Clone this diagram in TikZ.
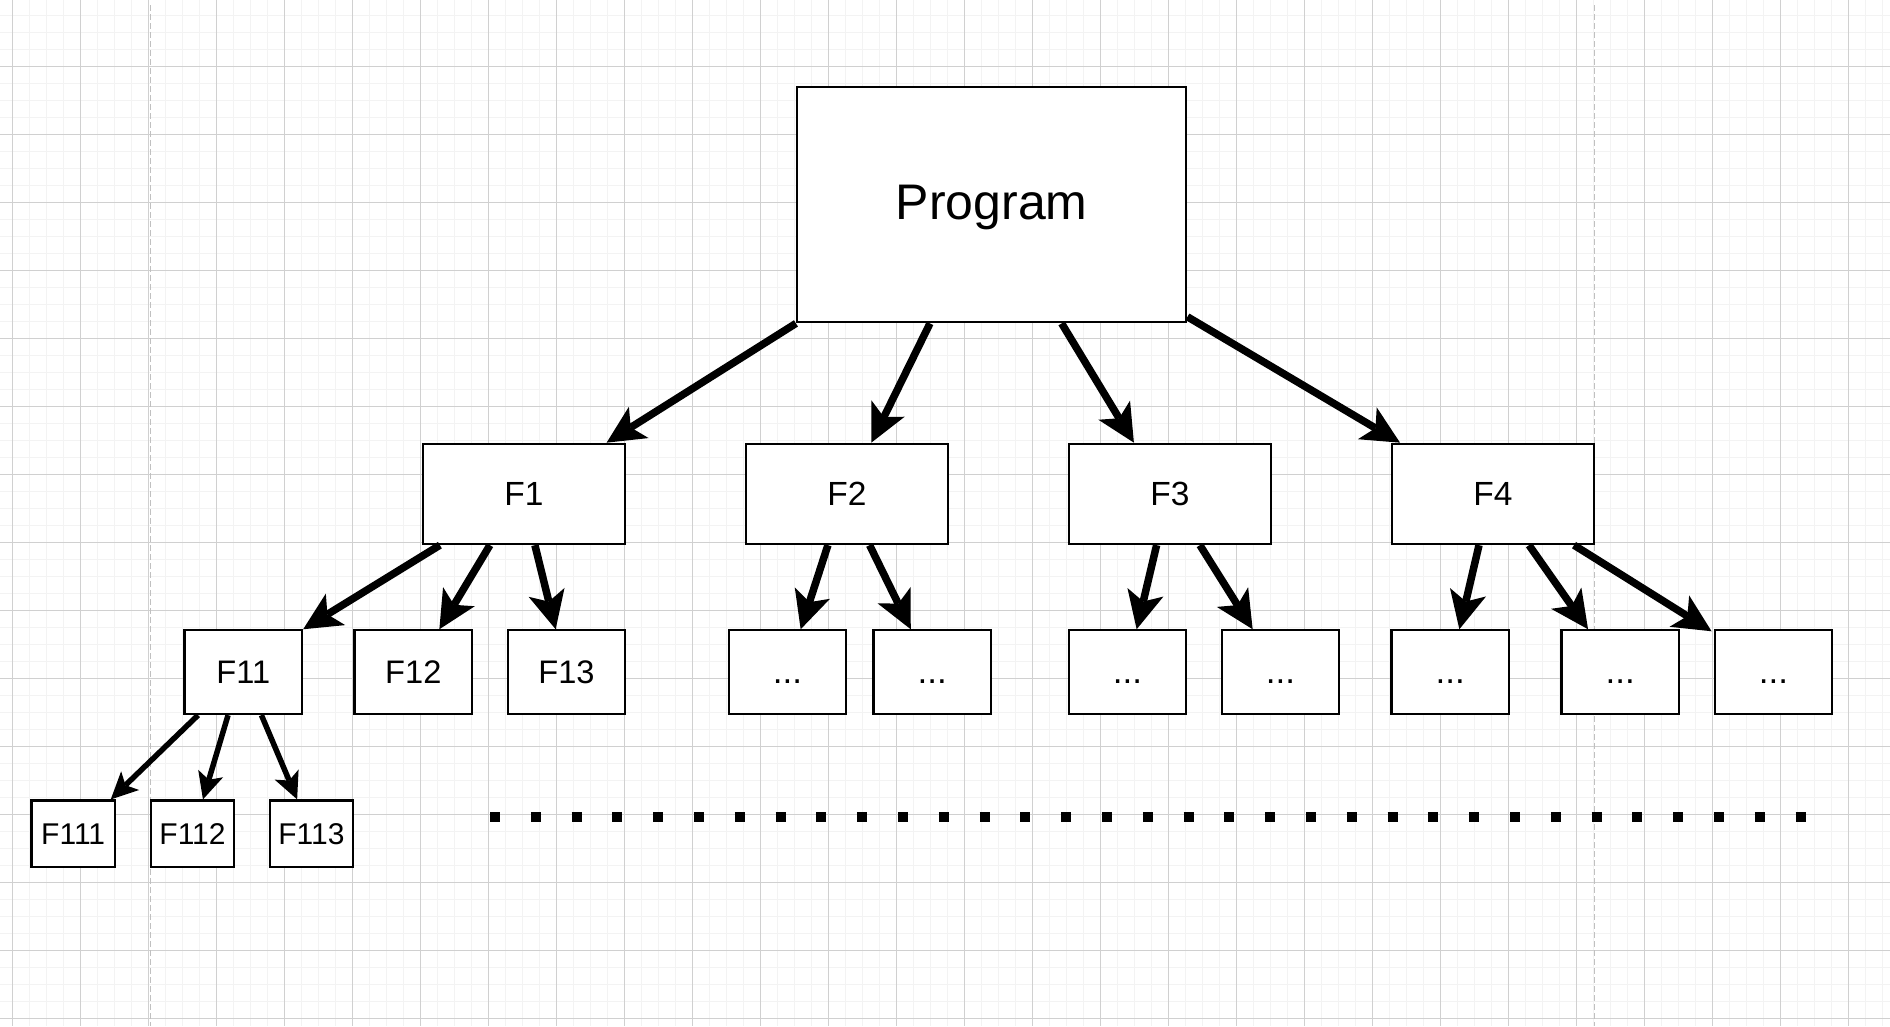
\documentclass[tikz,border=0pt]{standalone}
\usepackage{fontspec}
\setmainfont{Liberation Sans}
\usetikzlibrary{arrows.meta}
\definecolor{minorgrid}{RGB}{243,243,243}
\definecolor{majorgrid}{RGB}{208,208,208}
\definecolor{pagebreak}{RGB}{192,192,192}
\begin{document}
\begin{tikzpicture}[x=1pt,y=-1pt,
  box/.style={draw=black, line width=2.2pt, fill=white, inner sep=0pt, text depth=0pt},
  lvl0/.style={box, minimum width=389.3pt, minimum height=235.6pt, font=\fontsize{50pt}{60pt}\selectfont, text height=35.8pt, text depth=6pt},
  lvl1/.style={box, minimum width=202.6pt, minimum height=100.3pt, font=\fontsize{33.5pt}{40pt}\selectfont, text height=24pt},
  lvl2/.style={box, minimum width=117.5pt, minimum height=83.7pt, font=\fontsize{32.6pt}{40pt}\selectfont, text height=23.3pt},
  dotsbox/.style={box, minimum width=117.5pt, minimum height=83.7pt, font=\fontsize{35pt}{42pt}\selectfont, text height=22pt},
  lvl3/.style={box, minimum width=83.5pt, minimum height=66.2pt, font=\fontsize{30pt}{36pt}\selectfont, text height=21.5pt},
  arrbig/.style={line width=7.5pt, -{Stealth[length=38pt,width=37pt,inset=9.5pt,line width=0pt]}},
  arrsmall/.style={line width=5.5pt, -{Stealth[length=27pt,width=26pt,inset=6.5pt,line width=0pt]}},
  pageline/.style={draw=pagebreak, line width=1.5pt, dash pattern=on 6pt off 3pt},
  dotline/.style={line width=10pt, dash pattern=on 10pt off 30.8pt}
]
\useasboundingbox (0,0) rectangle (1890,1026);
\fill[white] (0,0) rectangle (1890,1026);
% grid
\begin{scope}
\clip (0,0) rectangle (1890,1026);
\foreach \i in {0,...,111} \draw[minorgrid, line width=1.6pt] ({12.3+17*\i},0) -- ++(0,1026);
\foreach \j in {0,...,61} \draw[minorgrid, line width=1.6pt] (0,{-1.7+17*\j}) -- ++(1890,0);
\foreach \i in {0,...,27} \draw[majorgrid, line width=1pt] ({12.3+68*\i},0) -- ++(0,1026);
\foreach \j in {0,...,15} \draw[majorgrid, line width=1pt] (0,{-1.7+68*\j}) -- ++(1890,0);
\end{scope}
% page break lines
\coordinate (pbAt) at (150.7,5);
\coordinate (pbAb) at (150.7,1026);
\coordinate (pbBt) at (1594.7,5);
\coordinate (pbBb) at (1594.7,1026);
\draw[pageline] (pbAt) -- (pbAb);
\draw[pageline] (pbBt) -- (pbBb);
% boxes
\node[lvl0] (prog) at (991.7,204.5) {Program};
\node[lvl1] (f1) at (524,493.9) {F1};
\node[lvl1] (f2) at (847,493.9) {F2};
\node[lvl1] (f3) at (1170,493.9) {F3};
\node[lvl1] (f4) at (1493,493.9) {F4};
\node[lvl2] (f11) at (243.3,672.2) {F11};
\node[lvl2] (f12) at (413.3,672.2) {F12};
\node[lvl2] (f13) at (566.5,672.2) {F13};
\node[dotsbox] (f2a) at (787.5,672.2) {...};
\node[dotsbox] (f2b) at (932.2,672.2) {...};
\node[dotsbox] (f3a) at (1127.5,672.2) {...};
\node[dotsbox] (f3b) at (1280.5,672.2) {...};
\node[dotsbox] (f4a) at (1450.3,672.2) {...};
\node[dotsbox] (f4b) at (1620.3,672.2) {...};
\node[dotsbox] (f4c) at (1773.4,672.2) {...};
\node[lvl3] (f111) at (73.2,833.6) {F111};
\node[lvl3] (f112) at (192.5,833.6) {F112};
\node[lvl3] (f113) at (311.4,833.6) {F113};
% connectors
\draw[arrbig] (prog.south west) -- ([xshift=185pt]f1.north west);
\draw[arrbig] ([xshift=134pt]prog.south west) -- ([xshift=126.7pt]f2.north west);
\draw[arrbig] ([xshift=265.7pt]prog.south west) -- ([xshift=66.3pt]f3.north west);
\draw[arrbig] ([yshift=6.6pt]prog.south east) -- ([xshift=9.4pt]f4.north west);
\draw[arrbig] ([xshift=18.3pt]f1.south west) -- (f11.north east);
\draw[arrbig] ([xshift=68.3pt]f1.south west) -- ([xshift=85.9pt]f12.north west);
\draw[arrbig] ([xshift=113.3pt]f1.south west) -- ([xshift=49pt]f13.north west);
\draw[arrbig] ([xshift=83.3pt]f2.south west) -- ([xshift=73pt]f2a.north west);
\draw[arrbig] ([xshift=125pt]f2.south west) -- ([xshift=38.4pt]f2b.north west);
\draw[arrbig] ([xshift=89pt]f3.south west) -- ([xshift=69pt]f3a.north west);
\draw[arrbig] ([xshift=132.3pt]f3.south west) -- ([xshift=32pt]f3b.north west);
\draw[arrbig] ([xshift=88.4pt]f4.south west) -- ([xshift=68.9pt]f4a.north west);
\draw[arrbig] ([xshift=138.4pt]f4.south west) -- ([xshift=27.6pt]f4b.north west);
\draw[arrbig] ([xshift=183.4pt]f4.south west) -- ([xshift=-2pt,yshift=-2pt]f4c.north west);
\draw[arrsmall] ([xshift=14.6pt]f11.south west) -- ([xshift=80.4pt]f111.north west);
\draw[arrsmall] ([xshift=44.6pt]f11.south west) -- ([xshift=53.3pt]f112.north west);
\draw[arrsmall] ([xshift=78pt]f11.south west) -- ([xshift=28.6pt]f113.north west);
% dotted continuation line
\coordinate (dotL) at (490,816.7);
\coordinate (dotR) at (1806,816.7);
\draw[dotline] (dotL) -- (dotR);
\end{tikzpicture}
\end{document}
